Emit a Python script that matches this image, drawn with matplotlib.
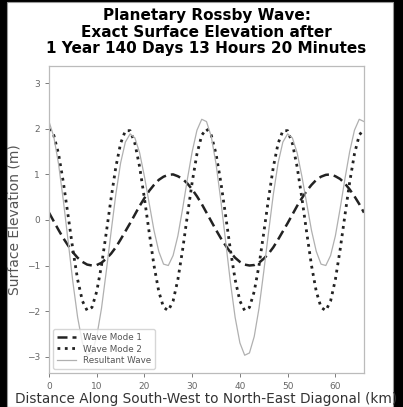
import matplotlib
matplotlib.use("Agg")
import matplotlib.pyplot as plt
from matplotlib.patches import Rectangle

# distance along the diagonal (km), read every 1 km
distance = list(range(0, 67))

# wave mode 1 (m)
mode_1 = [0.16, -0.03, -0.22, -0.40, -0.56, -0.71, -0.83, -0.92, -0.98, -1.00,
          -0.99, -0.94, -0.85, -0.74, -0.60, -0.43, -0.25, -0.07, 0.12, 0.31,
          0.48, 0.64, 0.77, 0.88, 0.95, 0.99, 1.00, 0.96, 0.90, 0.80,
          0.67, 0.52, 0.35,
          0.16, -0.03, -0.22, -0.40, -0.56, -0.71, -0.83, -0.92, -0.98, -1.00,
          -0.99, -0.94, -0.85, -0.74, -0.60, -0.43, -0.25, -0.07, 0.12, 0.31,
          0.48, 0.64, 0.77, 0.88, 0.95, 0.99, 1.00, 0.96, 0.90, 0.80,
          0.67, 0.52, 0.35, 0.16]

# wave mode 2 (m)
mode_2 = [2.00, 1.86, 1.45, 0.83, 0.10, -0.65, -1.31, -1.78, -1.99, -1.92,
          -1.57, -1.00, -0.28, 0.47, 1.16, 1.68, 1.96, 1.96, 1.68, 1.16,
          0.47, -0.28, -1.00, -1.57, -1.92, -1.99, -1.78, -1.31, -0.65, 0.10,
          0.83, 1.45, 1.86,
          2.00, 1.86, 1.45, 0.83, 0.10, -0.65, -1.31, -1.78, -1.99, -1.92,
          -1.57, -1.00, -0.28, 0.47, 1.16, 1.68, 1.96, 1.96, 1.68, 1.16,
          0.47, -0.28, -1.00, -1.57, -1.92, -1.99, -1.78, -1.31, -0.65, 0.10,
          0.83, 1.45, 1.86, 2.00]

# resultant wave (m)
resultant = [2.16, 1.83, 1.23, 0.43, -0.46, -1.36, -2.14, -2.70, -2.97, -2.92,
             -2.56, -1.94, -1.13, -0.27, 0.56, 1.25, 1.71, 1.89, 1.80, 1.47,
             0.95, 0.36, -0.23, -0.69, -0.97, -1.00, -0.78, -0.35, 0.25, 0.90,
             1.50, 1.97, 2.21,
             2.16, 1.83, 1.23, 0.43, -0.46, -1.36, -2.14, -2.70, -2.97, -2.92,
             -2.56, -1.94, -1.13, -0.27, 0.56, 1.25, 1.71, 1.89, 1.80, 1.47,
             0.95, 0.36, -0.23, -0.69, -0.97, -1.00, -0.78, -0.35, 0.25, 0.90,
             1.50, 1.97, 2.21, 2.16]

title_lines = ["Planetary Rossby Wave:",
               "Exact Surface Elevation after",
               "1 Year 140 Days 13 Hours 20 Minutes"]

fig = plt.figure(figsize=(4.03, 4.07), dpi=100, facecolor="black")
# white page inside the black screenshot border
fig.patches.append(Rectangle((7 / 403, 0), 386 / 403, 405 / 407,
                             transform=fig.transFigure, facecolor="white",
                             edgecolor="#999999", linewidth=0.8, zorder=-5))

ax = fig.add_axes([49 / 403, 34 / 407, 315 / 403, 307 / 407])
ax.plot(distance, mode_1, linestyle="--", color="#222222", linewidth=1.8,
        dashes=(4, 2), label="Wave Mode 1")
ax.plot(distance, mode_2, linestyle=":", color="#222222", linewidth=2.0,
        label="Wave Mode 2")
ax.plot(distance, resultant, linestyle="-", color="#b0b0b0", linewidth=0.9,
        label="Resultant Wave")

ax.set_xlim(0, 66)
ax.set_ylim(-3.36, 3.38)
ax.set_xticks([0, 10, 20, 30, 40, 50, 60])
ax.set_yticks([-3, -2, -1, 0, 1, 2, 3])
ax.tick_params(labelsize=6.5, colors="#666666", length=3, width=0.6)
for s in ax.spines.values():
    s.set_color("#bbbbbb")
    s.set_linewidth(0.9)

ax.set_xlabel("Distance Along South-West to North-East Diagonal (km)",
              fontsize=9.8, color="#333333", labelpad=1)
ax.set_ylabel("Surface Elevation (m)", fontsize=10, color="#555555", labelpad=4)
ax.set_title("\n".join(title_lines), fontsize=11, fontweight="bold", pad=9,
             linespacing=1.15)

leg = ax.legend(loc="lower left", fontsize=6.3, frameon=True, handlelength=2.2,
                borderpad=0.4, labelspacing=0.3)
leg.get_frame().set_edgecolor("#cccccc")
for t in leg.get_texts():
    t.set_color("#555555")

fig.savefig("out.png", dpi=100, facecolor="black")
